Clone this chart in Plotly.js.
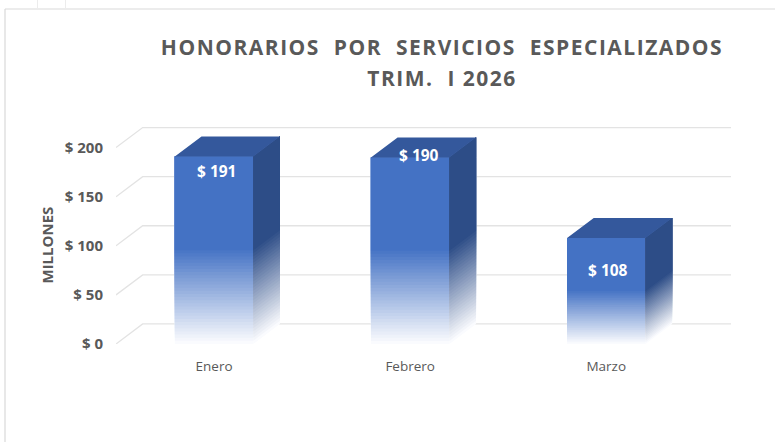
<!DOCTYPE html>
<html>
<head>
<meta charset="utf-8">
<script src="https://cdn.plot.ly/plotly-3.0.1.min.js"></script>
<style>html,body{margin:0;padding:0;background:#fff;}#chart{width:775px;height:442px;}
.gtitle{letter-spacing:1.5px;}
g.annotation[data-index="4"] text{letter-spacing:1.5px;}</style>
</head>
<body>
<div id="chart"></div>
<script>
// ---- data ----
const months = ['Enero', 'Febrero', 'Marzo'];
const values = [191, 190, 108];
const valueLabels = ['$ 191', '$ 190', '$ 108'];
const yTickVals = [0, 50, 100, 150, 200];
const yTickText = ['$ 0', '$ 50', '$ 100', '$ 150', '$ 200'];
const titleLine1 = 'HONORARIOS\u00a0\u00a0POR\u00a0\u00a0SERVICIOS\u00a0\u00a0ESPECIALIZADOS';
const titleLine2 = 'TRIM.\u00a0\u00a0I 2026';

// ---- styling / geometry ----
const BAR_W = 0.4, DX = 0.136, DY = 20.4, N = 30, FADE = 0.5;
const FRONT = [68, 114, 196], SIDE = [45, 77, 135], TOP = '#34589c';
const WHITE = [250, 251, 254];
const labelShiftY = [-15, 2, -32];
const labelShiftX = [2, 9, 2];
const M = {l: 116, r: 44, t: 126, b: 98};
const W = 775, H = 442;
const TITLE_FONT = {family: 'Open Sans', size: 21, color: '#595959', weight: 700};

function mix(a, b, t) {
  return 'rgb(' + a.map((c, i) => Math.round(c + (b[i] - c) * t)).join(',') + ')';
}
const xPos = months.map((_, i) => i);
const traces = [];

// front faces (bars with vertical fade)
for (let k = 0; k <= N; k++) {
  const f = FADE * k / N;
  traces.push({
    type: 'bar', x: xPos,
    base: values.map(v => v * f),
    y: values.map(v => v * (1 - f)),
    width: BAR_W,
    marker: {color: mix(WHITE, FRONT, k / N), line: {width: 0}},
    hoverinfo: 'skip', showlegend: false
  });
}
// side faces
for (let k = 0; k <= N; k++) {
  const f = FADE * k / N;
  const xs = [], ys = [];
  values.forEach((v, i) => {
    const xr = xPos[i] + BAR_W / 2, h = v * f;
    xs.push(xr, xr + DX, xr + DX, xr, xr, null);
    ys.push(h, h + DY, v + DY, v, h, null);
  });
  traces.push({
    type: 'scatter', mode: 'lines', x: xs, y: ys, fill: 'toself',
    fillcolor: mix(WHITE, SIDE, k / N),
    line: {width: 0, color: 'rgba(0,0,0,0)'},
    hoverinfo: 'skip', showlegend: false
  });
}
// top faces
{
  const xs = [], ys = [];
  values.forEach((v, i) => {
    const xl = xPos[i] - BAR_W / 2, xr = xPos[i] + BAR_W / 2;
    xs.push(xl, xr, xr + DX, xl + DX, xl, null);
    ys.push(v, v, v + DY, v + DY, v, null);
  });
  traces.push({
    type: 'scatter', mode: 'lines', x: xs, y: ys, fill: 'toself',
    fillcolor: TOP, line: {width: 0, color: 'rgba(0,0,0,0)'},
    hoverinfo: 'skip', showlegend: false
  });
}

const xL = xPos[0] - 0.5, xR = xPos[xPos.length - 1] + 0.5;
const shapes = yTickVals.map(v => ({
  type: 'path', xref: 'x', yref: 'y', layer: 'below',
  path: `M ${xL},${v} L ${xL + DX},${v + DY} L ${xR + DX},${v + DY}`,
  line: {color: '#e3e3e3', width: 1.3}
}));
const pw = W - M.l - M.r, ph = H - M.t - M.b;
const px = x => (x - M.l) / pw, py = y => (H - M.b - y) / ph;
shapes.push(
  {type: 'line', xref: 'paper', yref: 'paper', x0: px(5), x1: px(780), y0: py(9), y1: py(9), line: {color: '#d9d9d9', width: 1.2}},
  {type: 'line', xref: 'paper', yref: 'paper', x0: px(5), x1: px(5), y0: py(9), y1: py(445), line: {color: '#d9d9d9', width: 1.2}},
  {type: 'line', xref: 'paper', yref: 'paper', x0: px(37.5), x1: px(37.5), y0: py(0), y1: py(9), line: {color: '#ececec', width: 1}},
  {type: 'line', xref: 'paper', yref: 'paper', x0: px(65.5), x1: px(65.5), y0: py(0), y1: py(9), line: {color: '#ececec', width: 1}}
);

const annotations = values.map((v, i) => ({
  x: xPos[i], y: v, xref: 'x', yref: 'y', text: valueLabels[i], showarrow: false,
  xanchor: 'center', yanchor: 'middle', xshift: labelShiftX[i], yshift: labelShiftY[i],
  font: {family: 'Open Sans', size: 15.5, color: '#ffffff', weight: 700}
}));
annotations.push({
  x: px(46), y: py(245.5), xref: 'paper', yref: 'paper', text: 'MILLONES', textangle: -90,
  showarrow: false, xanchor: 'center', yanchor: 'middle',
  font: {family: 'Open Sans', size: 15, color: '#595959', weight: 700}
});
annotations.push({
  x: px(442), y: py(78), xref: 'paper', yref: 'paper', text: titleLine2,
  showarrow: false, xanchor: 'center', yanchor: 'middle',
  font: TITLE_FONT
});

const layout = {
  width: W, height: H,
  margin: M,
  paper_bgcolor: '#ffffff', plot_bgcolor: 'rgba(0,0,0,0)',
  barmode: 'overlay',
  showlegend: false,
  title: {
    text: titleLine1,
    x: 442 / W, xref: 'container', xanchor: 'center',
    y: 1 - 48 / H, yref: 'container', yanchor: 'middle',
    font: TITLE_FONT
  },
  xaxis: {
    range: [xL, xR + DX], tickvals: xPos, ticktext: months,
    showgrid: false, zeroline: false, showline: false, ticks: '',
    ticklabelstandoff: 12,
    tickfont: {family: 'Open Sans', size: 13.5, color: '#595959'}, fixedrange: true
  },
  yaxis: {
    range: [0, 200 + DY + 1.6], tickvals: yTickVals, ticktext: yTickText,
    showgrid: false, zeroline: false, showline: false, ticks: '',
    ticklabelstandoff: 12,
    tickfont: {family: 'Open Sans', size: 15, color: '#595959', weight: 700}, fixedrange: true
  },
  shapes: shapes,
  annotations: annotations
};
Plotly.newPlot('chart', traces, layout, {displayModeBar: false, staticPlot: true});
</script>
</body>
</html>
